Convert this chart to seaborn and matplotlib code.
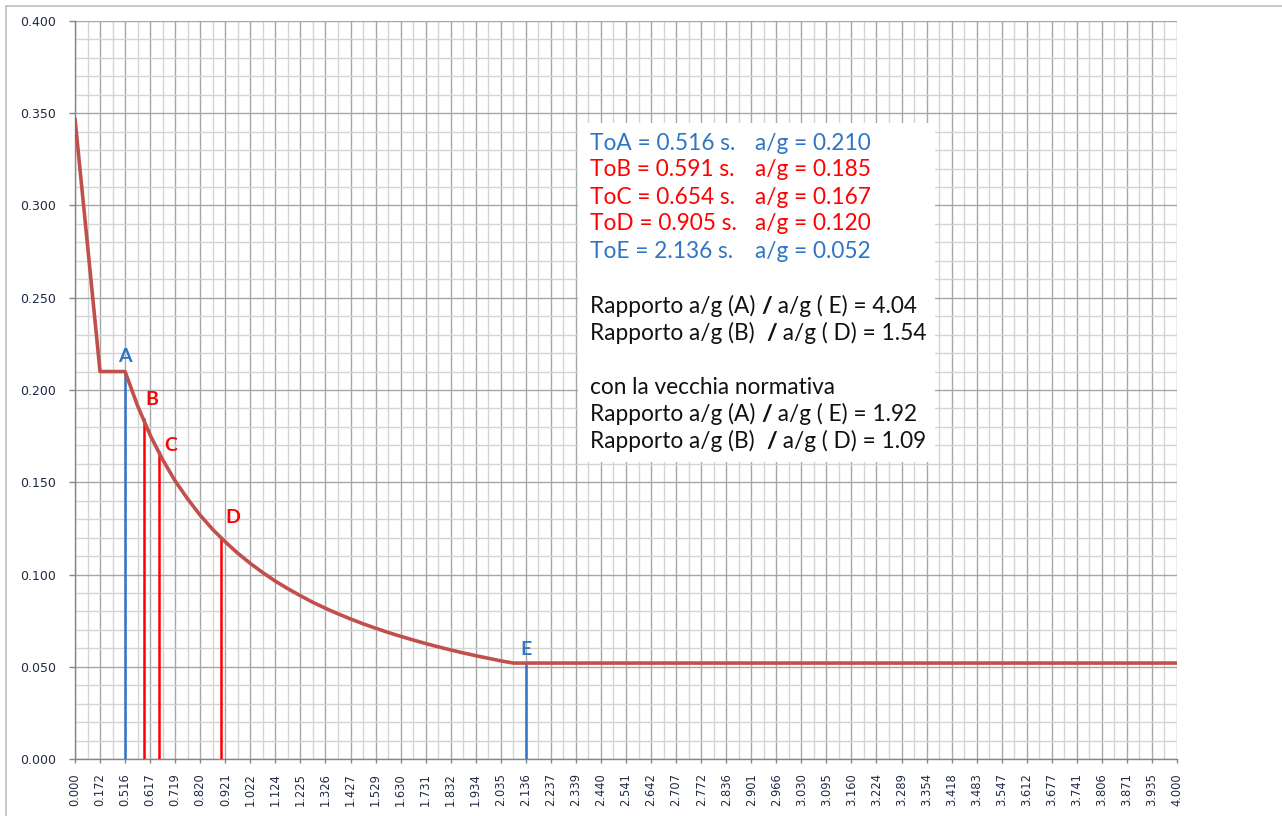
import numpy as np
import pandas as pd
import matplotlib.pyplot as plt
import seaborn as sns
from matplotlib.patches import Rectangle
from matplotlib.lines import Line2D
from matplotlib.ticker import FixedLocator, MultipleLocator

# periodo T (s) - asse a categorie, etichetta ogni 2 categorie
periods = [0.000, 0.086, 0.172, 0.344, 0.516, 0.566, 0.617, 0.668, 0.719, 0.769,
           0.820, 0.871, 0.921, 0.972, 1.022, 1.073, 1.124, 1.174, 1.225, 1.276,
           1.326, 1.377, 1.427, 1.478, 1.529, 1.579, 1.630, 1.681, 1.731, 1.782,
           1.832, 1.883, 1.934, 1.984, 2.035, 2.085, 2.136, 2.187, 2.237, 2.288,
           2.339, 2.389, 2.440, 2.491, 2.541, 2.592, 2.642, 2.675, 2.707, 2.739,
           2.772, 2.804, 2.836, 2.869, 2.901, 2.933, 2.966, 2.998, 3.030, 3.063,
           3.095, 3.127, 3.160, 3.192, 3.224, 3.257, 3.289, 3.321, 3.354, 3.386,
           3.418, 3.451, 3.483, 3.515, 3.547, 3.580, 3.612, 3.644, 3.677, 3.709,
           3.741, 3.774, 3.806, 3.838, 3.871, 3.903, 3.935, 3.968, 4.000]

# spettro a/g
ag_values = [0.3470, 0.2785, 0.2100, 0.2100, 0.2100, 0.1914, 0.1756, 0.1622, 0.1507, 0.1409,
             0.1321, 0.1244, 0.1177, 0.1115, 0.1060, 0.1010, 0.0964, 0.0923, 0.0885, 0.0849,
             0.0817, 0.0787, 0.0759, 0.0733, 0.0709, 0.0686, 0.0665, 0.0645, 0.0626, 0.0608,
             0.0591, 0.0575, 0.0560, 0.0546, 0.0532, 0.0520, 0.0520, 0.0520, 0.0520, 0.0520,
             0.0520, 0.0520, 0.0520, 0.0520, 0.0520, 0.0520, 0.0520, 0.0520, 0.0520, 0.0520,
             0.0520, 0.0520, 0.0520, 0.0520, 0.0520, 0.0520, 0.0520, 0.0520, 0.0520, 0.0520,
             0.0520, 0.0520, 0.0520, 0.0520, 0.0520, 0.0520, 0.0520, 0.0520, 0.0520, 0.0520,
             0.0520, 0.0520, 0.0520, 0.0520, 0.0520, 0.0520, 0.0520, 0.0520, 0.0520, 0.0520,
             0.0520, 0.0520, 0.0520, 0.0520, 0.0520, 0.0520, 0.0520, 0.0520, 0.0520]

marker_names = ['A', 'B', 'C', 'D', 'E']
marker_T = [0.516, 0.591, 0.654, 0.905, 2.136]
marker_ag = [0.210, 0.185, 0.167, 0.120, 0.052]

BLUE = '#2E75C6'
RED = '#FF0000'
marker_colors = [BLUE, RED, RED, RED, BLUE]
label_offsets = [(0, 5), (6, 7), (8, -2), (8, 8), (0, 4)]  # punti

info_T = ['ToA = 0.516 s.', 'ToB = 0.591 s.', 'ToC = 0.654 s.', 'ToD = 0.905 s.', 'ToE = 2.136 s.']
info_ag = ['a/g = 0.210', 'a/g = 0.185', 'a/g = 0.167', 'a/g = 0.120', 'a/g = 0.052']
ratio_lines = [['Rapporto a/g (A) ', '/', ' a/g ( E) = 4.04'],
               ['Rapporto a/g (B)  ', '/', ' a/g ( D) = 1.54'],
               None,
               ['Rapporto a/g (A) ', '/', ' a/g ( E) = 1.92'],
               ['Rapporto a/g (B)  ', '/', ' a/g ( D) = 1.09']]
old_rule = 'con la vecchia normativa'

sns.set_theme(style='white')
plt.rcParams['font.family'] = ['DejaVu Sans']

idx = np.arange(len(periods))
df = pd.DataFrame({'cat': idx, 'ag': ag_values})

fig = plt.figure(figsize=(12.82, 8.16), dpi=100)
ax = fig.add_axes([75 / 1282, 1 - 759 / 816, 1102 / 1282, 738 / 816])

# griglia
ax.set_xlim(0, len(periods) - 1)
ax.set_ylim(0, 0.4)
ax.xaxis.set_major_locator(FixedLocator(idx[::2]))
ax.xaxis.set_minor_locator(FixedLocator(idx[1::2]))
ax.yaxis.set_major_locator(MultipleLocator(0.05))
ax.yaxis.set_minor_locator(MultipleLocator(0.01))
ax.grid(which='major', color='#A6A6A6', linewidth=1.0)
ax.grid(which='minor', color='#D4D4D4', linewidth=1.0)
ax.set_axisbelow(True)

sns.lineplot(data=df, x='cat', y='ag', color='#C0504D', linewidth=2.6, ax=ax, zorder=4)

marker_x = np.interp(marker_T, periods, idx)
for name, mx, my, col, off in zip(marker_names, marker_x, marker_ag, marker_colors, label_offsets):
    ax.vlines(mx, 0, my, color=col, linewidth=1.8, zorder=3)
    ax.annotate(name, xy=(mx, my), xytext=off, textcoords='offset points',
                ha='center', va='bottom', color=col, fontsize=14, fontweight='bold',
                family='Lato', zorder=5)

ax.set_xticks(idx[::2])
ax.set_xticklabels(['%.3f' % p for p in periods[::2]], rotation=90, fontsize=8.3, color='#1F2A44')
ax.set_yticks(np.arange(0, 0.401, 0.05))
ax.set_yticklabels(['%.3f' % v for v in np.arange(0, 0.401, 0.05)], fontsize=9,
                   color='#1F2A44')
ax.tick_params(axis='x', which='major', length=3, width=1, color='#868686',
               direction='out', pad=7, bottom=True)
ax.tick_params(axis='y', which='major', length=4.5, width=1, color='#868686',
               direction='out', pad=9, left=True)
ax.tick_params(axis='both', which='minor', length=0)
ax.set_xlabel('')
ax.set_ylabel('')
for s in ['top', 'right']:
    ax.spines[s].set_visible(False)
for s in ['left', 'bottom']:
    ax.spines[s].set_color('#868686')
    ax.spines[s].set_linewidth(1.0)

# riquadro testo
ax.add_patch(Rectangle((503 / 1102, 297 / 738), 357 / 1102, 339 / 738,
                       transform=ax.transAxes, facecolor='white', edgecolor='none', zorder=3))

x_left = 515 / 1102
x_right = 680 / 1102
row_y = [(759 - y) / 738 for y in [143, 170, 197, 224, 251, 306, 333, 387, 414, 441]]
fs = 16.3
info_colors = [BLUE, RED, RED, RED, BLUE]
for t, a, col, y in zip(info_T, info_ag, info_colors, row_y[:5]):
    ax.text(x_left, y, t, transform=ax.transAxes, color=col, fontsize=fs,
            family='Lato', va='center', zorder=5)
    ax.text(x_right, y, a, transform=ax.transAxes, color=col, fontsize=fs,
            family='Lato', va='center', zorder=5)

for pieces, y in zip([ratio_lines[0], ratio_lines[1], None, ratio_lines[3], ratio_lines[4]],
                     [row_y[5], row_y[6], row_y[7], row_y[8], row_y[9]]):
    if pieces is None:
        ax.text(x_left, y, old_rule, transform=ax.transAxes, color='#111111',
                fontsize=fs, family='Lato', va='center', zorder=5)
        continue
    prev = ax.text(x_left, y, pieces[0], transform=ax.transAxes, color='#111111',
                   fontsize=fs, family='Lato', va='center', zorder=5)
    for piece in pieces[1:]:
        prev = ax.annotate(piece, xy=(1, 0), xycoords=prev, va='bottom', ha='left',
                           color='#111111', fontsize=fs, family='Lato',
                           fontweight='black' if piece == '/' else 'normal', zorder=5)

# bordo area grafico
fig.add_artist(Line2D([6 / 1282, 6 / 1282], [0, 1 - 6 / 816], transform=fig.transFigure,
                      color='#BFBFBF', linewidth=1.2))
fig.add_artist(Line2D([6 / 1282, 1], [1 - 6 / 816, 1 - 6 / 816], transform=fig.transFigure,
                      color='#BFBFBF', linewidth=1.2))

fig.savefig('out.png', dpi=100, facecolor='white')
